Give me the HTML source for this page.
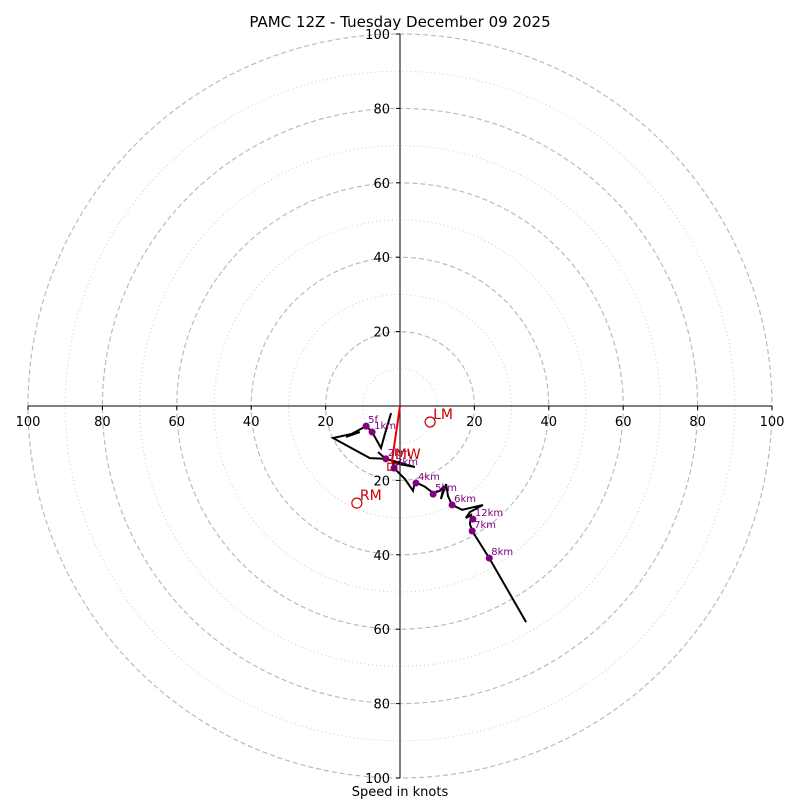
<!DOCTYPE html>
<html><head><meta charset="utf-8"><style>
body{margin:0;background:#fff}
svg{display:block;font-family:"DejaVu Sans","Liberation Sans",sans-serif}
</style></head><body>
<svg id="c" width="800" height="800" viewBox="0 0 800 800">
<rect width="800" height="800" fill="#fff"/>
<text x="400" y="27" text-anchor="middle" font-size="15">PAMC 12Z - Tuesday December 09 2025</text>
<g id="grid"></g><g id="axes"></g><g id="trace"></g>
<text x="400" y="796" text-anchor="middle" font-size="13">Speed in knots</text>
</svg>
<script>
const ringTicks=[20,40,60,80,100];
const traceU=[-2.4,-4,-5.1,-7.5,-9.1,-14.5,-10.8,-18.0,-8.1,-3.8,-5.9,-3.8,4.0,-1.9,-1.6,1.3,3.5,4.0,6.7,8.9,10.8,11.8,11.0,12.4,12.9,14.0,16.7,22.3,18.8,17.7,19.1,18.8,19.4,24.0,33.9];
const traceV=[-1.9,-7.3,-11.3,-7.0,-5.4,-8.3,-7.0,-8.6,-14.0,-14.2,-12.4,-14.2,-16.4,-15.3,-16.7,-19.6,-22.8,-20.4,-21.7,-23.4,-22.8,-21.5,-25.0,-21.0,-24.2,-26.6,-27.9,-26.6,-28.5,-30.1,-29.3,-31.7,-33.6,-40.9,-58.1];
const markerLabels=['5f','1km','2km','3km','4km','5km','6km','12km','7km','8km'];
const markerU=[-9.1,-7.5,-3.8,-1.6,4.3,8.9,14.0,19.6,19.4,24.0];
const markerV=[-5.4,-7.0,-14.2,-16.7,-20.7,-23.7,-26.6,-30.4,-33.6,-40.9];
const stormLabels=['LM','RM','MW'];
const stormU=[8.1,-11.6,-2.2];
const stormV=[-4.3,-26.1,-15.1];
const cx=400,cy=406,R=3.72;
const X=u=>cx+u*R, Y=v=>cy-v*R;
const NS='http://www.w3.org/2000/svg';
function mk(t,a,p){const e=document.createElementNS(NS,t);for(const k in a)e.setAttribute(k,a[k]);p.appendChild(e);return e;}
const grid=document.getElementById('grid'),axes=document.getElementById('axes'),tr=document.getElementById('trace');
for(let s=10;s<=100;s+=10){
  const major=s%20===0;
  const c=mk('circle',{cx:cx,cy:cy,r:s*R,fill:'none',stroke:major?'#bbb':'#ccc','stroke-width':major?1.2:1,'stroke-dasharray':major?'5,3':'1,3'},grid);
  
  
}
const ax1=mk('line',{x1:X(-100),y1:cy,x2:X(100),y2:cy,stroke:'#000'},axes);


const ax2=mk('line',{x1:cx,y1:Y(100),x2:cx,y2:Y(-100),stroke:'#000'},axes);


ringTicks.forEach(t=>{
  [[X(-t),cy+20,'middle'],[X(t),cy+20,'middle'],[cx-10,Y(t)+5,'end'],[cx-10,Y(-t)+5,'end']].forEach(p=>{
    const e=mk('text',{x:p[0],y:p[1],'text-anchor':p[2],'font-size':13},axes);e.textContent=t;
    
    
  });
  [[X(-t),cy,X(-t),cy+4],[X(t),cy,X(t),cy+4],[cx,Y(t),cx-4,Y(t)],[cx,Y(-t),cx-4,Y(-t)]].forEach(p=>{
    const e=mk('line',{x1:p[0],y1:p[1],x2:p[2],y2:p[3],stroke:'#000'},axes);
    
    
  });
});
const pl=mk('polyline',{points:traceU.map((u,i)=>X(u)+','+Y(traceV[i])).join(' '),fill:'none',stroke:'#000','stroke-width':2},tr);


const mw=mk('line',{x1:cx,y1:cy,x2:X(stormU[2]),y2:Y(stormV[2]),stroke:'#e00','stroke-width':2},tr);


const bx=mk('rect',{x:X(stormU[2])-4,y:Y(stormV[2])+1,width:9,height:7,fill:'none',stroke:'#c00','stroke-width':1.2},tr);


markerLabels.forEach((l,i)=>{
  const d=mk('circle',{cx:X(markerU[i]),cy:Y(markerV[i]),r:3.5,fill:'#800080'},tr);
  
  
  const t=mk('text',{x:X(markerU[i])+2,y:Y(markerV[i])-3,'font-size':10,fill:'#800080'},tr);t.textContent=l;
  
  
});
stormLabels.forEach((l,i)=>{
  if(l!=='MW'){
    const c=mk('circle',{cx:X(stormU[i]),cy:Y(stormV[i]),r:5,fill:'none',stroke:'#c00','stroke-width':1.2},tr);
    
    
  }
  const t=mk('text',{x:X(stormU[i])+3,y:Y(stormV[i])-3,'font-size':14,fill:'#c00'},tr);t.textContent=l;
  
  
});
</script>
</body></html>
